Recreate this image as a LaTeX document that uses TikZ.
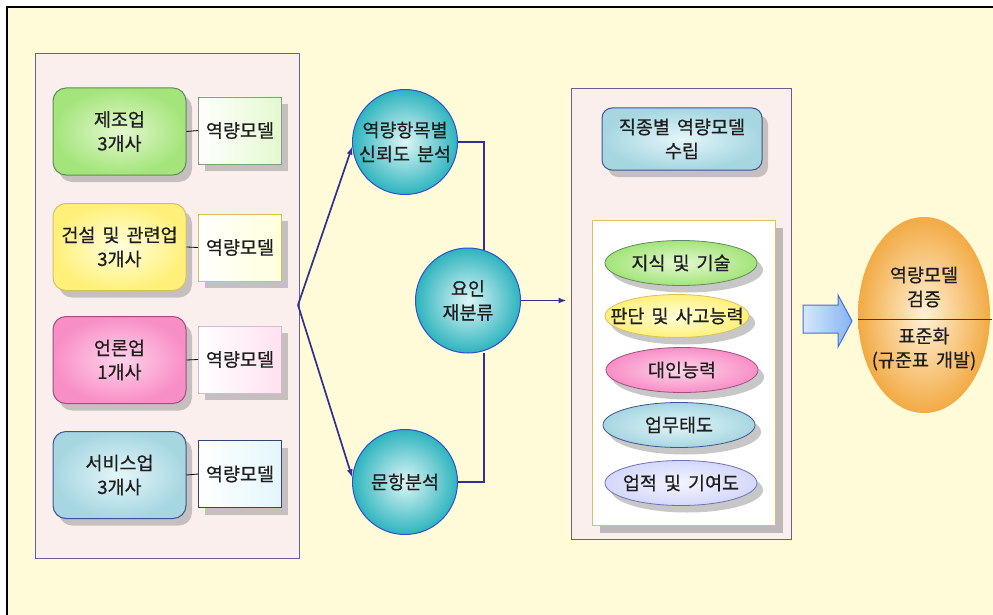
\documentclass[tikz,border=0pt]{standalone}
\usepackage{fontspec}
\setmainfont[WordSpace=1.7,FakeBold=0.6]{Noto Sans CJK KR}
\usetikzlibrary{shadows,arrows.meta,shapes.geometric,backgrounds,calc}
\definecolor{bgyellow}{HTML}{FFFAD8}
\definecolor{panelfill}{HTML}{FBEFEE}
\definecolor{panelline}{HTML}{6A6090}
\definecolor{conn}{HTML}{32308E}
\definecolor{txt}{HTML}{1E1E1E}
\definecolor{gOut}{HTML}{A4E47A}\definecolor{gIn}{HTML}{E4F8D0}\definecolor{gLine}{HTML}{5E8C5A}
\definecolor{yOut}{HTML}{FFF07A}\definecolor{yIn}{HTML}{FFFFDC}\definecolor{yLine}{HTML}{D8C060}
\definecolor{pOut}{HTML}{F88EC6}\definecolor{pIn}{HTML}{FFD4EA}\definecolor{pLine}{HTML}{A05080}
\definecolor{bOut}{HTML}{A6D6E0}\definecolor{bIn}{HTML}{E4F6FA}\definecolor{bLine}{HTML}{3E5690}
\definecolor{lOut}{HTML}{D4D8FA}\definecolor{lIn}{HTML}{F4F4FF}\definecolor{lLine}{HTML}{7070B8}
\definecolor{ballOut}{HTML}{2EB4BE}\definecolor{ballIn}{HTML}{DDF6F6}\definecolor{ballLine}{HTML}{3050D0}
\definecolor{oOut}{HTML}{F2AA44}\definecolor{oIn}{HTML}{FFF2D8}
\definecolor{arOut}{HTML}{86B4F0}\definecolor{arIn}{HTML}{D6E8FC}\definecolor{arLine}{HTML}{4070E0}
\newcommand{\zw}[1]{\makebox[0pt]{#1}}
\begin{document}
\begin{tikzpicture}[x=1pt,y=-1pt,
  font=\fontsize{18.5}{24}\selectfont, text=txt,
  shad/.style={drop shadow={shadow xshift=6pt,shadow yshift=-7pt,fill=black!40,opacity=.55}},
  indbox/.style={rounded corners=13pt,minimum width=133pt,minimum height=87pt,line width=1pt,
     align=center,inner sep=0pt,shading=radial,shad},
  mbox/.style={minimum width=83pt,minimum height=67pt,line width=.8pt,inner sep=0pt,shad},
  ballnode/.style={circle,minimum size=105pt,draw=ballLine,line width=1pt,shading=radial,
     inner color=ballIn,outer color=ballOut,align=center,inner sep=0pt},
  oval/.style={ellipse,minimum width=152pt,minimum height=45pt,line width=.8pt,inner sep=0pt,
     shading=radial,shad},
  link/.style={draw=conn,line width=1.7pt},
  arr/.style={link,-{Latex[length=8pt,width=6pt]}}
]
\useasboundingbox (0,0) rectangle (993,615);
% outer frame
\draw[fill=bgyellow,line width=1.2pt] (7,7) rectangle (1010,630);

% left panel
\node[draw=panelline,fill=panelfill,line width=.9pt,minimum width=264pt,minimum height=505pt,inner sep=0pt] (lp) at (167,305.5) {};
\node[indbox,draw=gLine,inner color=gIn,outer color=gOut] (b1) at (119.5,131.5) {제조업\\3개사};
\node[indbox,draw=yLine,inner color=yIn,outer color=yOut] (b2) at (119.5,247) {건설 및 관련업\\3개사};
\node[indbox,draw=pLine,inner color=pIn,outer color=pOut] (b3) at (119.5,360) {언론업\\1개사};
\node[indbox,draw=bLine,inner color=bIn,outer color=bOut] (b4) at (119.5,475) {서비스업\\3개사};
\node[mbox,draw=gLine!80,left color=white,right color=gIn] (m1) at (240,130.5) {역량모델};
\node[mbox,draw=yLine,left color=white,right color=yIn] (m2) at (240,247.5) {역량모델};
\node[mbox,draw=pLine!40,left color=white,right color=pIn!70] (m3) at (240,359.5) {역량모델};
\node[mbox,draw=bLine!80!black,left color=white,right color=bIn] (m4) at (240,474) {역량모델};
\foreach \i in {1,2,3,4} \draw[line width=.8pt] (b\i.east) -- (m\i.west);

% circles
\node[ballnode] (c1) at (405,142) {역량항목별\\신뢰도 분석};
\node[ballnode] (c2) at (468,300.5) {요인\\재분류};
\node[ballnode] (c3) at (405,482) {문항분석};

% right panel
\node[draw=panelline,fill=panelfill,line width=.9pt,minimum width=220pt,minimum height=451pt,inner sep=0pt] (rp) at (681,313.5) {};
\node[rounded corners=10pt,minimum width=160pt,minimum height=62pt,draw=bLine,line width=1pt,
   shading=radial,inner color=bIn,outer color=bOut,align=center,inner sep=0pt,shad] (jm) at (682,139) {직종별 역량모델\\수립};
\node[draw=yLine,fill=white,line width=1pt,minimum width=183pt,minimum height=305pt,inner sep=0pt,
   drop shadow={shadow xshift=8pt,shadow yshift=-8pt,fill=black!45,opacity=.55}] (yb) at (683.5,372.5) {};
\node[oval,draw=gLine,inner color=gIn,outer color=gOut] (e1) at (681,263) {\zw{지식 및 기술}};
\node[oval,draw=yLine,inner color=yIn,outer color=yOut,minimum width=144pt,minimum height=43pt] (e2) at (677,316) {\zw{판단 및 사고능력}};
\node[oval,draw=pLine,inner color=pIn,outer color=pOut] (e3) at (682,370) {\zw{대인능력}};
\node[oval,draw=bLine,inner color=bIn,outer color=bOut] (e4) at (679,425) {\zw{업무태도}};
\node[oval,draw=lLine,inner color=lIn,outer color=lOut] (e5) at (681,483) {\zw{업적 및 기여도}};

% connectors
\coordinate (fan) at (298,305);
\draw[arr] (fan) -- (c1.185);
\draw[arr] (fan) -- (c3.175);
\coordinate (j1) at (484,142);
\coordinate (j2) at (484,482);
\draw[link] (c1.east) -- (j1) -- ($(j1)+(0,108)$);
\draw[link] (c3.east) -- (j2) -- ($(j2)+(0,-129)$);
\draw[arr,shorten >=4pt] (c2.east) -- (c2.east -| rp.west);

% big arrow
\draw[draw=arLine,line width=1pt,left color=arIn,right color=arOut]
  (803,305) -- (838,305) -- (838,295) -- (852,321) -- (838,347) -- (838,333) -- (803,333) -- cycle;

% verification ellipse
\node[ellipse,minimum width=132pt,minimum height=196pt,shading=radial,inner color=oIn,outer color=oOut,inner sep=0pt] (ve) at (924,315) {};
\draw[conn,line width=1pt] ($(ve.west)+(0,4)$) -- ($(ve.east)+(2,4)$);
\node[align=center] (ve1) at (924,287) {역량모델\\검증};
\node[align=center] (ve2) at (924,349) {표준화\\(규준표 개발)};
\end{tikzpicture}
\end{document}
